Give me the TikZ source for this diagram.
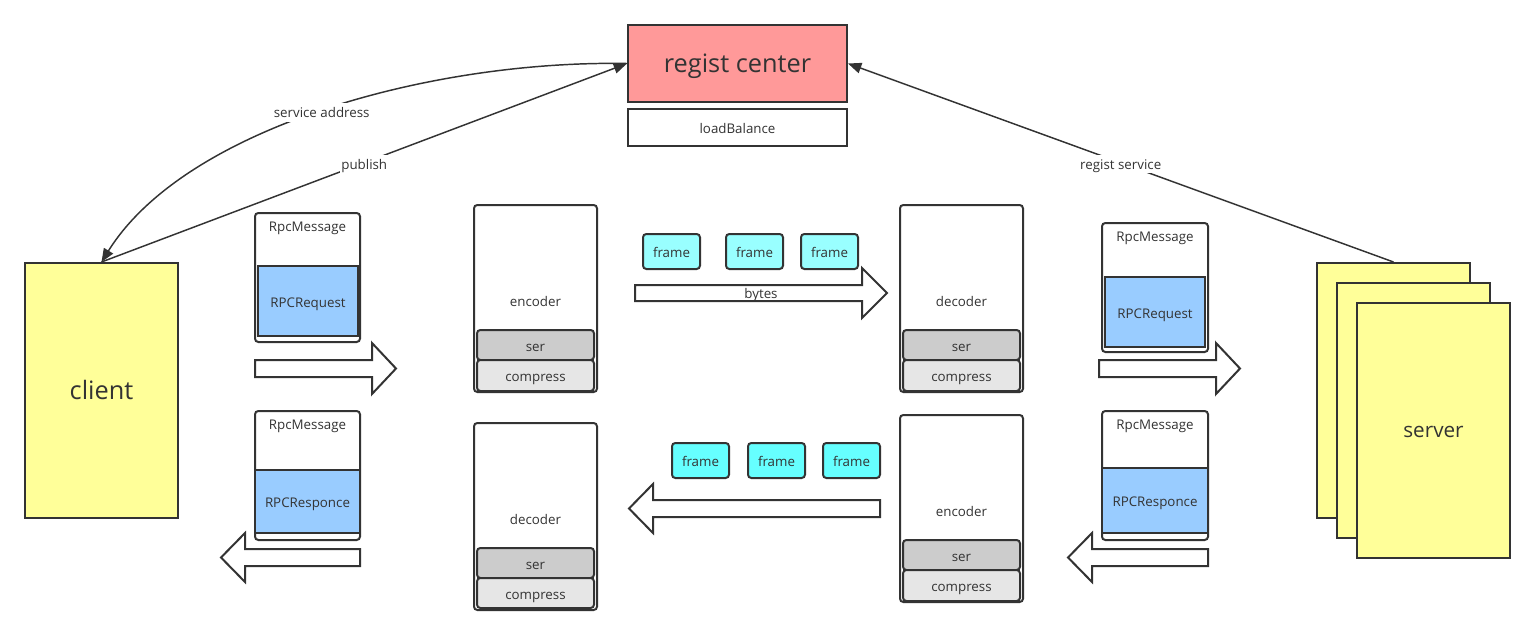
\documentclass[tikz,border=0pt]{standalone}
\usepackage{fontspec}
\setmainfont{Open Sans}
\usetikzlibrary{arrows.meta,fit}
\definecolor{ln}{HTML}{333333}
\definecolor{rcfill}{HTML}{FF9999}
\definecolor{yel}{HTML}{FFFF99}
\definecolor{blu}{HTML}{99CCFF}
\definecolor{serg}{HTML}{CCCCCC}
\definecolor{cmpg}{HTML}{E6E6E6}
\definecolor{cyanA}{HTML}{99FFFF}
\definecolor{cyanB}{HTML}{66FFFF}
\tikzset{
  box/.style={draw=ln, line width=1.5pt, inner sep=0pt},
  rbox/.style={box, rounded corners=2.5pt},
  lbl/.style={text=ln, inner sep=1pt, font=\fontsize{10}{12}\selectfont, text height=9.6pt, text depth=0pt},
  big/.style={text=ln, inner sep=0pt, font=\fontsize{19}{22}\selectfont, text height=13.2pt, text depth=0pt},
  lnk/.style={draw=ln, line width=1.1pt, -{Triangle[length=10pt,width=8pt]}},
  blk/.style={draw=ln, line width=1.5pt, fill=white, line join=miter},
  lab/.style={lbl, fill=white, text height=9.6pt, text depth=2.2pt, yshift=-1.1pt}
}
\begin{document}
\begin{tikzpicture}[x=0.75pt,y=-0.75pt]
\useasboundingbox (0,0) rectangle (1535,635);
% regist center
\node[box, fill=rcfill, fit={(628,25)(847,102)}] (rc) {};
\node[big] (rct) at (rc.center) {regist center};
\node[box, fill=white, fit={(628,109)(847,146)}] (lb) {};
\node[lbl] (lbt) at (lb.center) {loadBalance};
% client
\node[box, fill=yel, fit={(25,263)(178,518)}] (client) {};
\node[big] (clientt) at (client.center) {client};
% servers
\node[box, fill=yel, fit={(1317,263)(1470,518)}] (s1) {};
\node[box, fill=yel, fit={(1337,283)(1490,538)}] (s2) {};
\node[box, fill=yel, fit={(1357,303)(1510,558)}] (s3) {};
\node[text=ln, inner sep=0pt, font=\fontsize{15.5}{18}\selectfont, text height=10.8pt, text depth=0pt] (servert) at (s3.center) {server};
% left RpcMessage request
\node[rbox, fill=white, fit={(255,213)(360,342)}] (m1) {};
\node[lbl] (m1t) at (307.5,225) {RpcMessage};
\node[box, fill=blu, fit={(258,266)(358,336)}] (req1) {};
\node[lbl] (req1t) at (req1.center) {RPCRequest};
% left RpcMessage response
\node[rbox, fill=white, fit={(255,411)(360,540)}] (m2) {};
\node[lbl] (m2t) at (307.5,423) {RpcMessage};
\node[box, fill=blu, fit={(255,470)(360,533)}] (rsp1) {};
\node[lbl] (rsp1t) at (rsp1.center) {RPCResponce};
% right RpcMessage request
\node[rbox, fill=white, fit={(1102,223)(1208,352)}] (m3) {};
\node[lbl] (m3t) at (1155,235) {RpcMessage};
\node[box, fill=blu, fit={(1105,277)(1205,347)}] (req2) {};
\node[lbl] (req2t) at (req2.center) {RPCRequest};
% right RpcMessage response
\node[rbox, fill=white, fit={(1102,411)(1208,540)}] (m4) {};
\node[lbl] (m4t) at (1155,423) {RpcMessage};
\node[box, fill=blu, fit={(1102,468)(1208,533)}] (rsp2) {};
\node[lbl] (rsp2t) at (rsp2.center) {RPCResponce};
% client encoder
\node[rbox, fill=white, fit={(474,205)(597,392)}] (enc1) {};
\node[lbl] (enc1t) at (535.5,300) {encoder};
\node[rbox, fill=serg, fit={(477,330)(594,360)}] (ser1) {};
\node[lbl] (ser1t) at (ser1.center) {ser};
\node[rbox, fill=cmpg, fit={(477,360)(594,391)}] (cmp1) {};
\node[lbl] (cmp1t) at (cmp1.center) {compress};
% client decoder
\node[rbox, fill=white, fit={(474,423)(597,610)}] (dec1) {};
\node[lbl] (dec1t) at (535.5,518) {decoder};
\node[rbox, fill=serg, fit={(477,548)(594,578)}] (ser2) {};
\node[lbl] (ser2t) at (ser2.center) {ser};
\node[rbox, fill=cmpg, fit={(477,578)(594,608)}] (cmp2) {};
\node[lbl] (cmp2t) at (cmp2.center) {compress};
% server decoder
\node[rbox, fill=white, fit={(900,205)(1023,392)}] (dec2) {};
\node[lbl] (dec2t) at (961.5,300) {decoder};
\node[rbox, fill=serg, fit={(903,330)(1020,360)}] (ser3) {};
\node[lbl] (ser3t) at (ser3.center) {ser};
\node[rbox, fill=cmpg, fit={(903,360)(1020,391)}] (cmp3) {};
\node[lbl] (cmp3t) at (cmp3.center) {compress};
% server encoder
\node[rbox, fill=white, fit={(900,415)(1023,602)}] (enc2) {};
\node[lbl] (enc2t) at (961.5,510) {encoder};
\node[rbox, fill=serg, fit={(903,540)(1020,570)}] (ser4) {};
\node[lbl] (ser4t) at (ser4.center) {ser};
\node[rbox, fill=cmpg, fit={(903,570)(1020,601)}] (cmp4) {};
\node[lbl] (cmp4t) at (cmp4.center) {compress};
% frames
\node[rbox, fill=cyanA, fit={(643,234)(700,269)}] (f1) {};
\node[lbl] (f1t) at (f1.center) {frame};
\node[rbox, fill=cyanA, fit={(726,234)(783,269)}] (f2) {};
\node[lbl] (f2t) at (f2.center) {frame};
\node[rbox, fill=cyanA, fit={(801,234)(858,269)}] (f3) {};
\node[lbl] (f3t) at (f3.center) {frame};
\node[rbox, fill=cyanB, fit={(672,443)(729,478)}] (f4) {};
\node[lbl] (f4t) at (f4.center) {frame};
\node[rbox, fill=cyanB, fit={(748,443)(805,478)}] (f5) {};
\node[lbl] (f5t) at (f5.center) {frame};
\node[rbox, fill=cyanB, fit={(823,443)(880,478)}] (f6) {};
\node[lbl] (f6t) at (f6.center) {frame};
% block arrows
\draw[blk] (255,360) -- (372,360) -- (372,343) -- (396,368.5) -- (372,394) -- (372,377) -- (255,377) -- cycle;
\draw[blk] (360,549) -- (245,549) -- (245,533) -- (221,557.5) -- (245,582) -- (245,566) -- (360,566) -- cycle;
\draw[blk] (635,285) -- (862,285) -- (862,268) -- (887,293) -- (862,318) -- (862,301) -- (635,301) -- cycle;
\node[lbl] (bytes) at (761,292) {bytes};
\draw[blk] (880,500) -- (653,500) -- (653,484) -- (629,508.5) -- (653,533) -- (653,517) -- (880,517) -- cycle;
\draw[blk] (1099,360) -- (1216,360) -- (1216,343) -- (1240,368.5) -- (1216,394) -- (1216,377) -- (1099,377) -- cycle;
\draw[blk] (1208,549) -- (1092,549) -- (1092,533) -- (1068,557.5) -- (1092,582) -- (1092,566) -- (1208,566) -- cycle;
% connectors
\draw[lnk] (client.north) -- node[lab, pos=0.5] {publish} (rc.west);
\draw[lnk] (rc.west) .. controls (430,60) and (185,128) .. node[lab, pos=0.5] {service address} (client.north);
\draw[lnk] (s1.north) -- node[lab, pos=0.5] {regist service} (rc.east);
\end{tikzpicture}
\end{document}
